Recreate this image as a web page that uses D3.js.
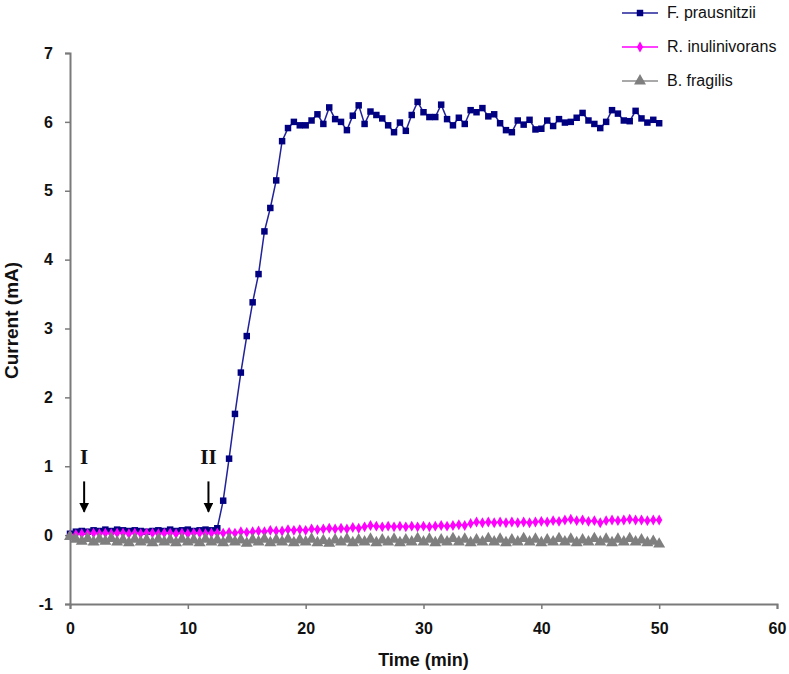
<!DOCTYPE html>
<html>
<head>
<meta charset="utf-8">
<script src="https://cdn.jsdelivr.net/npm/d3@7"></script>
<style>
  body { margin: 0; background: #fff; }
  text { font-family: "Liberation Sans", Arial, sans-serif; }
</style>
</head>
<body>
<div id="chart"></div>
<script>
const width = 789
const height = 674
const margins = { top: 53, right: 12, bottom: 70, left: 70 }

// sampling times, every half minute
const times = d3.range(0, 50.5, 0.5)

const prausnitzii = [
    0.02, 0.05, 0.06, 0.05, 0.07, 0.06, 0.08, 0.06, 0.08, 0.07, 0.06, 0.07, 0.06,
    0.05, 0.06, 0.07, 0.06, 0.08, 0.06, 0.07, 0.08, 0.06, 0.07, 0.08, 0.07, 0.10,
    0.50, 1.11, 1.76, 2.36, 2.89, 3.38, 3.79, 4.41, 4.75, 5.15, 5.72, 5.91, 6.00,
    5.95, 5.95, 6.02, 6.11, 5.97, 6.21, 6.04, 6.00, 5.88, 6.09, 6.24, 5.97, 6.15,
    6.10, 6.05, 5.95, 5.85, 5.99, 5.87, 6.10, 6.29, 6.14, 6.07, 6.07, 6.25,
    6.04, 5.95, 6.06, 5.97, 6.17, 6.14, 6.20, 6.08, 6.11, 5.98, 5.88, 5.85,
    6.02, 5.96, 6.03, 5.89, 5.90, 6.02, 5.94, 6.04, 5.99, 6.00, 6.06, 6.13, 6.02,
    5.97, 5.91, 6.00, 6.17, 6.12, 6.02, 6.01, 6.16, 6.05, 5.99, 6.03, 5.98
]
const inulinivorans = [
    0.00, 0.01, 0.02, 0.02, 0.03, 0.02, 0.03, 0.02, 0.03, 0.03, 0.02, 0.03, 0.02,
    0.03, 0.03, 0.02, 0.03, 0.03, 0.02, 0.03, 0.02, 0.03, 0.03, 0.02, 0.03, 0.03,
    0.03, 0.04, 0.03, 0.05, 0.04, 0.05, 0.06, 0.05, 0.07, 0.06, 0.06, 0.08, 0.07,
    0.08, 0.07, 0.09, 0.08, 0.09, 0.10, 0.09, 0.10, 0.09, 0.11, 0.10, 0.12, 0.14,
    0.13, 0.12, 0.13, 0.12, 0.13, 0.12, 0.13, 0.12, 0.13, 0.12, 0.13, 0.14,
    0.13, 0.14, 0.15, 0.14, 0.17, 0.19, 0.18, 0.19, 0.18, 0.19, 0.18, 0.19,
    0.18, 0.19, 0.18, 0.19, 0.20, 0.19, 0.21, 0.20, 0.22, 0.23, 0.21, 0.22, 0.20,
    0.21, 0.18, 0.21, 0.22, 0.21, 0.22, 0.23, 0.22, 0.22, 0.21, 0.22, 0.22
]
const fragilis = [
    -0.02, -0.06, -0.09, -0.05, -0.10, -0.06, -0.09, -0.05, -0.10, -0.07, -0.11, -0.06, -0.10,
    -0.07, -0.11, -0.06, -0.10, -0.07, -0.11, -0.06, -0.10, -0.07, -0.11, -0.06, -0.10, -0.07,
    -0.11, -0.06, -0.10, -0.07, -0.12, -0.07, -0.10, -0.06, -0.11, -0.07, -0.10, -0.06, -0.11,
    -0.07, -0.10, -0.06, -0.11, -0.08, -0.12, -0.07, -0.10, -0.06, -0.11, -0.07, -0.10, -0.06,
    -0.11, -0.07, -0.10, -0.06, -0.11, -0.07, -0.10, -0.05, -0.10, -0.06, -0.11, -0.07,
    -0.10, -0.05, -0.10, -0.06, -0.11, -0.07, -0.10, -0.05, -0.10, -0.06, -0.11, -0.07,
    -0.10, -0.05, -0.10, -0.06, -0.11, -0.07, -0.10, -0.05, -0.10, -0.06, -0.11, -0.07, -0.10,
    -0.05, -0.10, -0.06, -0.11, -0.06, -0.10, -0.05, -0.10, -0.07, -0.11, -0.09, -0.13
]

const seriesNames = ["F. prausnitzii", "R. inulinivorans", "B. fragilis"]
const seriesColors = ["#22229a", "#ff00ff", "#8c8c8c"]
const markerColors = ["#000080", "#ff00ff", "#7f7f7f"]
const seriesSymbols = [d3.symbolSquare, d3.symbolDiamond, d3.symbolTriangle]
const symbolSizes = [42, 34, 62]
const seriesValues = [prausnitzii, inulinivorans, fragilis]

const xTicks = [0, 10, 20, 30, 40, 50, 60]
const yTicks = [-1, 0, 1, 2, 3, 4, 5, 6, 7]

// additions marked on the chart
const arrowLabels = ["I", "II"]
const arrowTimes = [1.2, 11.75]

const svg = d3.select("#chart")
    .append("svg")
    .attr("width", width)
    .attr("height", height)

const x = d3.scaleLinear().domain([0, 60]).range([margins.left, width - margins.right])
const y = d3.scaleLinear().domain([-1, 7]).range([height - margins.bottom, margins.top])

const xAxis = svg.append("g")
    .attr("transform", `translate(0,${y(-1)})`)
    .call(d3.axisBottom(x).tickValues(xTicks).tickSize(5).tickPadding(14).tickFormat(d => String(d)))
const yAxis = svg.append("g")
    .attr("transform", `translate(${x(0)},0)`)
    .call(d3.axisLeft(y).tickValues(yTicks).tickSize(5).tickPadding(12).tickFormat(d => String(d)))

for (const ax of [xAxis, yAxis]) {
    ax.select(".domain").attr("stroke", "#7a7a7a").attr("stroke-width", 2)
    ax.selectAll(".tick line").attr("stroke", "#7a7a7a").attr("stroke-width", 1.5)
    ax.selectAll(".tick text")
        .attr("fill", "#111")
        .style("font-size", "16px")
        .style("font-weight", "bold")
}

svg.append("text")
    .text("Time (min)")
    .attr("x", (x(0) + x(60)) / 2)
    .attr("y", 666)
    .attr("text-anchor", "middle")
    .style("font-size", "18px")
    .style("font-weight", "bold")
    .attr("fill", "#111")

svg.append("text")
    .text("Current (mA)")
    .attr("transform", `translate(18,${(y(-1) + y(7)) / 2 - 8}) rotate(-90)`)
    .attr("text-anchor", "middle")
    .style("font-size", "19px")
    .style("font-weight", "bold")
    .attr("fill", "#111")

const line = d3.line()
    .x(d => x(d[0]))
    .y(d => y(d[1]))

seriesValues.forEach((values, i) => {
    const points = times.map((t, j) => [t, values[j]])
    svg.append("path")
        .datum(points)
        .attr("d", line)
        .attr("fill", "none")
        .attr("stroke", seriesColors[i])
        .attr("stroke-width", 1.5)
    svg.append("g")
        .selectAll("path")
        .data(points)
        .enter()
        .append("path")
        .attr("d", d3.symbol().type(seriesSymbols[i]).size(symbolSizes[i]))
        .attr("transform", d => `translate(${x(d[0])},${y(d[1])})`)
        .attr("fill", markerColors[i])
})

// arrows I and II
svg.append("defs").append("marker")
    .attr("id", "arrowhead")
    .attr("viewBox", "0 0 10 10")
    .attr("refX", 9)
    .attr("refY", 5)
    .attr("markerWidth", 5)
    .attr("markerHeight", 5)
    .attr("markerUnits", "strokeWidth")
    .attr("orient", "auto")
    .append("path")
    .attr("d", "M0,0 L10,5 L0,10 Z")
    .attr("fill", "#000")

arrowTimes.forEach((t, i) => {
    svg.append("line")
        .attr("x1", x(t))
        .attr("x2", x(t))
        .attr("y1", y(0.78))
        .attr("y2", y(0.34))
        .attr("stroke", "#000")
        .attr("stroke-width", 2)
        .attr("marker-end", "url(#arrowhead)")
    svg.append("text")
        .text(arrowLabels[i])
        .attr("x", x(t))
        .attr("y", y(1.03))
        .attr("text-anchor", "middle")
        .style("font-family", "'Liberation Serif', 'Times New Roman', serif")
        .style("font-size", "21px")
        .style("font-weight", "bold")
        .attr("fill", "#111")
})

// legend
const legend = svg.append("g").attr("transform", "translate(622,13)")
seriesNames.forEach((name, i) => {
    const row = legend.append("g").attr("transform", `translate(0,${i * 34})`)
    row.append("line")
        .attr("x1", 0)
        .attr("x2", 36)
        .attr("stroke", seriesColors[i])
        .attr("stroke-width", 1.5)
    row.append("path")
        .attr("d", d3.symbol().type(seriesSymbols[i]).size(symbolSizes[i]))
        .attr("transform", "translate(18,0)")
        .attr("fill", markerColors[i])
    row.append("text")
        .text(name)
        .attr("x", 45)
        .attr("y", 5)
        .style("font-size", "16px")
        .attr("fill", "#111")
})
</script>
</body>
</html>
